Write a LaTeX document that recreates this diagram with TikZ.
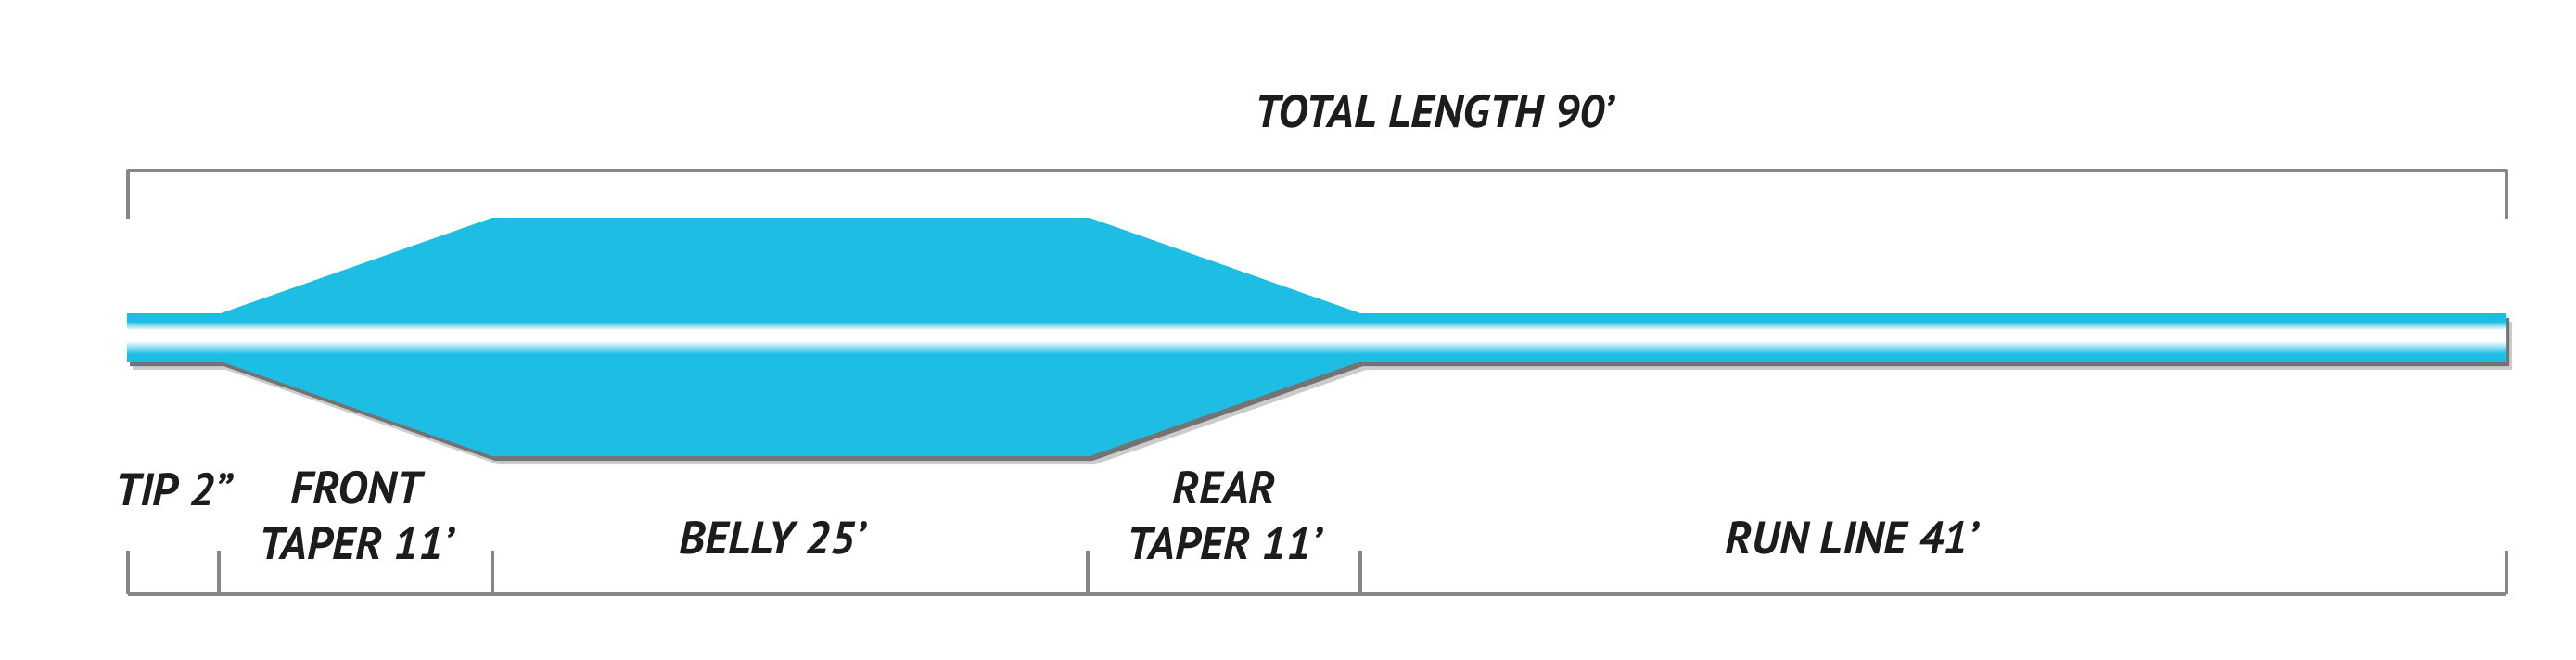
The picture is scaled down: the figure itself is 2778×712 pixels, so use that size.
\documentclass[tikz,border=0pt]{standalone}
\usepackage{fontspec}
\setmainfont{PT Sans}
\definecolor{lineblue}{RGB}{30,190,228}
\definecolor{bracketgray}{RGB}{135,135,135}
\definecolor{labelgray}{RGB}{28,28,28}
\pgfdeclareverticalshading{flyline}{100bp}{color(0bp)=(lineblue); color(25bp)=(lineblue); color(33bp)=(lineblue); color(47bp)=(white); color(58bp)=(white); color(67bp)=(lineblue); color(75bp)=(lineblue); color(100bp)=(lineblue)}
\tikzset{
    bracket/.style={bracketgray,line width=1.2pt,line join=round},
    label/.style={font=\bfseries\itshape\fontsize{14}{17}\selectfont,text=labelgray,align=center,inner sep=0pt},
    bodyshape/.style={insert path={(137,338) -- (238,338) -- (531,235) -- (1175,235) -- (1467,338) -- (2703,338)
        -- (2703,390) -- (1467,390) -- (1175,492) -- (531,492) -- (238,390) -- (137,390) -- cycle}}
}
\begin{document}
\begin{tikzpicture}[x=0.01cm,y=-0.01cm]
                \useasboundingbox (0,0) rectangle (2778,712);
                \fill[black!20,shift={(6,9)},bodyshape];
                \fill[black!55,shift={(3,5)},bodyshape];
                \fill[lineblue,bodyshape];
                \shade[shading=flyline,rounded corners=2pt] (137,338) rectangle (2703,390);
                \draw[bracket] (138,236) |- (2703,184) -- (2703,236);
                \draw[bracket] (138,641) -- (2703,641);
                \foreach \x in {138,236,531,1173,1467,2703}
                    \draw[bracket] (\x,594) -- (\x,641);
                \node[label] (total) at (1547,120) {TOTAL LENGTH 90’};
                \node[label] (tip) at (187,528) {TIP 2”};
                \node[label] (front) at (384,556) {FRONT\\TAPER 11’};
                \node[label] (belly) at (833,580) {BELLY 25’};
                \node[label] (rear) at (1320,556) {REAR\\TAPER 11’};
                \node[label] (runline) at (1997,580) {RUN LINE 41’};
            \end{tikzpicture}
\end{document}
